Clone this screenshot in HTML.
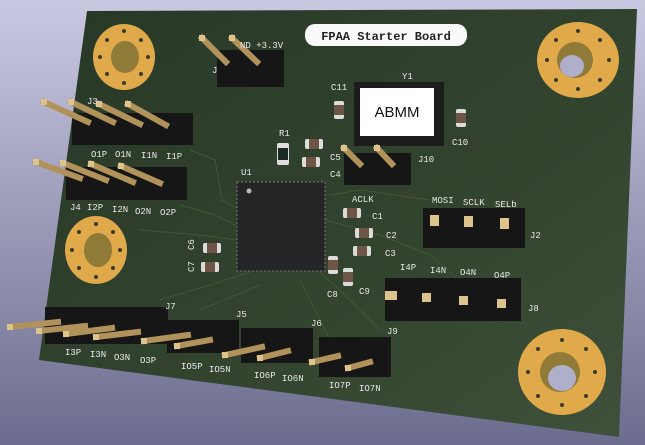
<!DOCTYPE html>
<html><head><style>
html,body{margin:0;padding:0;width:645px;height:445px;overflow:hidden}
svg{display:block}
text{font-family:"Liberation Mono",monospace;fill:#e8e8e8;font-size:9px}
</style></head><body>
<svg width="645" height="445" viewBox="0 0 645 445">
<defs>
<linearGradient id="bg" x1="0" y1="0" x2="0" y2="1"><stop offset="0" stop-color="#c9c9e2"/><stop offset="1" stop-color="#6c6c8e"/></linearGradient>
<linearGradient id="pcb" x1="0" y1="0" x2="1" y2="1"><stop offset="0" stop-color="#283827"/><stop offset="0.6" stop-color="#33442f"/><stop offset="1" stop-color="#3f513b"/></linearGradient>
<g id="cap"><rect x="-9" y="-5" width="18" height="10" rx="2" fill="#dcdcd8"/><rect x="-5" y="-5" width="10" height="10" fill="#6f5448"/></g>
<g id="vcap"><rect x="-5" y="-9" width="10" height="18" rx="2" fill="#dcdcd8"/><rect x="-5" y="-5" width="10" height="10" fill="#6f5448"/></g>
</defs>
<rect width="645" height="445" fill="url(#bg)"/>
<polygon points="87,11 637,9 619,437 39,360" fill="url(#pcb)"/>
<g stroke="#4c5a3a" stroke-width="1" fill="none" opacity="0.8">
<path d="M190,150 L215,160 L222,200 L240,210"/><path d="M180,205 L215,215 L235,225"/><path d="M140,230 L200,235 L237,240"/>
<path d="M160,300 L210,285 L250,272"/><path d="M200,310 L260,285"/><path d="M320,272 L350,300 L380,330"/>
<path d="M325,220 L380,235 L430,255 L470,290"/><path d="M330,195 L360,190 L430,200"/><path d="M300,280 L320,320 L330,340"/>
</g>
<g fill="#e0aa4a"><ellipse cx="124" cy="57" rx="31" ry="33"/><ellipse cx="578" cy="60" rx="41" ry="38"/><ellipse cx="96" cy="250" rx="31" ry="34"/><ellipse cx="562" cy="372" rx="44" ry="43"/></g>
<g fill="#8f7a38"><ellipse cx="125" cy="57" rx="14" ry="16"/><ellipse cx="575" cy="60" rx="18" ry="18"/><ellipse cx="98" cy="250" rx="14" ry="17"/><ellipse cx="560" cy="372" rx="20" ry="20"/></g>
<g fill="#b0afcb"><ellipse cx="572" cy="66" rx="12" ry="11"/><ellipse cx="562" cy="378" rx="14" ry="13"/></g>
<g fill="#3a3a2a">
<circle cx="124" cy="31" r="2"/><circle cx="124" cy="83" r="2"/><circle cx="100" cy="57" r="2"/><circle cx="148" cy="57" r="2"/><circle cx="107" cy="40" r="2"/><circle cx="141" cy="40" r="2"/><circle cx="107" cy="74" r="2"/><circle cx="141" cy="74" r="2"/>
<circle cx="578" cy="31" r="2"/><circle cx="578" cy="89" r="2"/><circle cx="547" cy="60" r="2"/><circle cx="609" cy="60" r="2"/><circle cx="556" cy="40" r="2"/><circle cx="600" cy="40" r="2"/><circle cx="556" cy="80" r="2"/><circle cx="600" cy="80" r="2"/>
<circle cx="96" cy="224" r="2"/><circle cx="96" cy="277" r="2"/><circle cx="72" cy="250" r="2"/><circle cx="120" cy="250" r="2"/><circle cx="79" cy="232" r="2"/><circle cx="113" cy="232" r="2"/><circle cx="79" cy="268" r="2"/><circle cx="113" cy="268" r="2"/>
<circle cx="562" cy="340" r="2"/><circle cx="562" cy="405" r="2"/><circle cx="528" cy="372" r="2"/><circle cx="595" cy="372" r="2"/><circle cx="538" cy="349" r="2"/><circle cx="586" cy="349" r="2"/><circle cx="538" cy="396" r="2"/><circle cx="586" cy="396" r="2"/>
</g>
<rect x="305" y="24" width="162" height="22" rx="10" fill="#fafafa"/>
<text x="386" y="40" text-anchor="middle" style="fill:#222;font-size:12px;font-weight:bold">FPAA Starter Board</text>
<rect x="354" y="82" width="90" height="64" fill="#1c1c1c"/>
<rect x="360" y="88" width="74" height="48" fill="#fff"/>
<text x="397" y="117" text-anchor="middle" style="fill:#111;font-family:'Liberation Sans',sans-serif;font-size:15px">ABMM</text>
<text x="402" y="79">Y1</text>
<rect x="237" y="182" width="88" height="89" fill="#252527" stroke="#777" stroke-width="1" stroke-dasharray="2,2"/>
<circle cx="249" cy="191" r="2.5" fill="#bbb"/>
<g fill="#161616">
<rect x="217" y="50" width="67" height="37"/><rect x="72" y="113" width="121" height="32"/><rect x="66" y="167" width="121" height="33"/>
<rect x="344" y="153" width="67" height="32"/><rect x="423" y="208" width="102" height="40"/><rect x="385" y="278" width="136" height="43"/>
<rect x="45" y="307" width="123" height="37"/><rect x="167" y="320" width="72" height="33"/><rect x="241" y="328" width="72" height="35"/><rect x="319" y="337" width="72" height="40"/>
</g>
<g stroke="#b0925a" stroke-width="6" stroke-linecap="square">
<line x1="202" y1="38" x2="226" y2="62"/><line x1="232" y1="38" x2="257" y2="62"/>
<line x1="44" y1="102" x2="88" y2="122"/><line x1="71" y1="102" x2="113" y2="122"/><line x1="99" y1="104" x2="140" y2="124"/><line x1="128" y1="104" x2="166" y2="125"/>
<line x1="36" y1="162" x2="80" y2="178"/><line x1="63" y1="163" x2="106" y2="180"/><line x1="91" y1="164" x2="133" y2="182"/><line x1="121" y1="166" x2="160" y2="183"/>
<line x1="344" y1="148" x2="360" y2="164"/><line x1="377" y1="148" x2="392" y2="164"/>
<line x1="10" y1="327" x2="58" y2="322"/><line x1="39" y1="331" x2="85" y2="326"/><line x1="66" y1="334" x2="112" y2="328"/><line x1="96" y1="337" x2="138" y2="332"/>
<line x1="144" y1="341" x2="188" y2="335"/><line x1="177" y1="346" x2="210" y2="340"/>
<line x1="225" y1="355" x2="262" y2="347"/><line x1="260" y1="358" x2="288" y2="351"/>
<line x1="312" y1="362" x2="338" y2="356"/><line x1="348" y1="368" x2="370" y2="362"/>
</g>
<g fill="#dcc48c">
<rect x="199" y="35" width="6" height="6"/><rect x="229" y="35" width="6" height="6"/>
<rect x="41" y="99" width="6" height="6"/><rect x="68" y="99" width="6" height="6"/><rect x="96" y="101" width="6" height="6"/><rect x="125" y="101" width="6" height="6"/>
<rect x="33" y="159" width="6" height="6"/><rect x="60" y="160" width="6" height="6"/><rect x="88" y="161" width="6" height="6"/><rect x="118" y="163" width="6" height="6"/>
<rect x="341" y="145" width="6" height="6"/><rect x="374" y="145" width="6" height="6"/>
<rect x="7" y="324" width="6" height="6"/><rect x="36" y="328" width="6" height="6"/><rect x="63" y="331" width="6" height="6"/><rect x="93" y="334" width="6" height="6"/>
<rect x="141" y="338" width="6" height="6"/><rect x="174" y="343" width="6" height="6"/><rect x="222" y="352" width="6" height="6"/><rect x="257" y="355" width="6" height="6"/><rect x="309" y="359" width="6" height="6"/><rect x="345" y="365" width="6" height="6"/>
<rect x="430" y="215" width="9" height="11"/><rect x="464" y="216" width="9" height="11"/><rect x="500" y="218" width="9" height="11"/>
<rect x="385" y="291" width="12" height="9"/><rect x="422" y="293" width="9" height="9"/><rect x="459" y="296" width="9" height="9"/><rect x="497" y="299" width="9" height="9"/>
</g>
<use href="#vcap" x="339" y="110"/><use href="#vcap" x="461" y="118"/>
<use href="#cap" x="314" y="144"/><use href="#cap" x="311" y="162"/>
<use href="#cap" x="352" y="213"/><use href="#cap" x="364" y="233"/><use href="#cap" x="362" y="251"/>
<use href="#vcap" x="333" y="265"/><use href="#vcap" x="348" y="277"/>
<use href="#cap" x="212" y="248"/><use href="#cap" x="210" y="267"/>
<rect x="277" y="143" width="12" height="22" rx="2" fill="#ddd"/><rect x="278" y="148" width="10" height="12" fill="#1d2a24"/>
<text x="240" y="48">ND +3.3V</text><text x="212" y="73">J</text>
<text x="87" y="104">J3</text><text x="91" y="157">O1P</text><text x="115" y="157">O1N</text><text x="141" y="158">I1N</text><text x="166" y="159">I1P</text>
<text x="70" y="210">J4</text><text x="87" y="210">I2P</text><text x="112" y="212">I2N</text><text x="135" y="214">O2N</text><text x="160" y="215">O2P</text>
<text x="331" y="90">C11</text><text x="452" y="145">C10</text><text x="279" y="136">R1</text><text x="330" y="160">C5</text><text x="330" y="177">C4</text><text x="418" y="162">J10</text>
<text x="241" y="175">U1</text><text x="352" y="202">ACLK</text><text x="372" y="219">C1</text><text x="386" y="238">C2</text><text x="385" y="256">C3</text>
<text x="432" y="203">MOSI</text><text x="463" y="205">SCLK</text><text x="495" y="207">SELb</text><text x="530" y="238">J2</text>
<text x="400" y="270">I4P</text><text x="430" y="273">I4N</text><text x="460" y="275">O4N</text><text x="494" y="278">O4P</text><text x="528" y="311">J8</text>
<text x="327" y="297">C8</text><text x="359" y="294">C9</text>
<text x="194" y="250" transform="rotate(-90 194 250)">C6</text><text x="194" y="272" transform="rotate(-90 194 272)">C7</text>
<text x="165" y="309">J7</text><text x="236" y="317">J5</text><text x="311" y="326">J6</text><text x="387" y="334">J9</text>
<text x="65" y="355">I3P</text><text x="90" y="357">I3N</text><text x="114" y="360">O3N</text><text x="140" y="363">O3P</text>
<text x="181" y="369">IO5P</text><text x="209" y="372">IO5N</text><text x="254" y="378">IO6P</text><text x="282" y="381">IO6N</text><text x="329" y="388">IO7P</text><text x="359" y="391">IO7N</text>
</svg>
</body></html>
